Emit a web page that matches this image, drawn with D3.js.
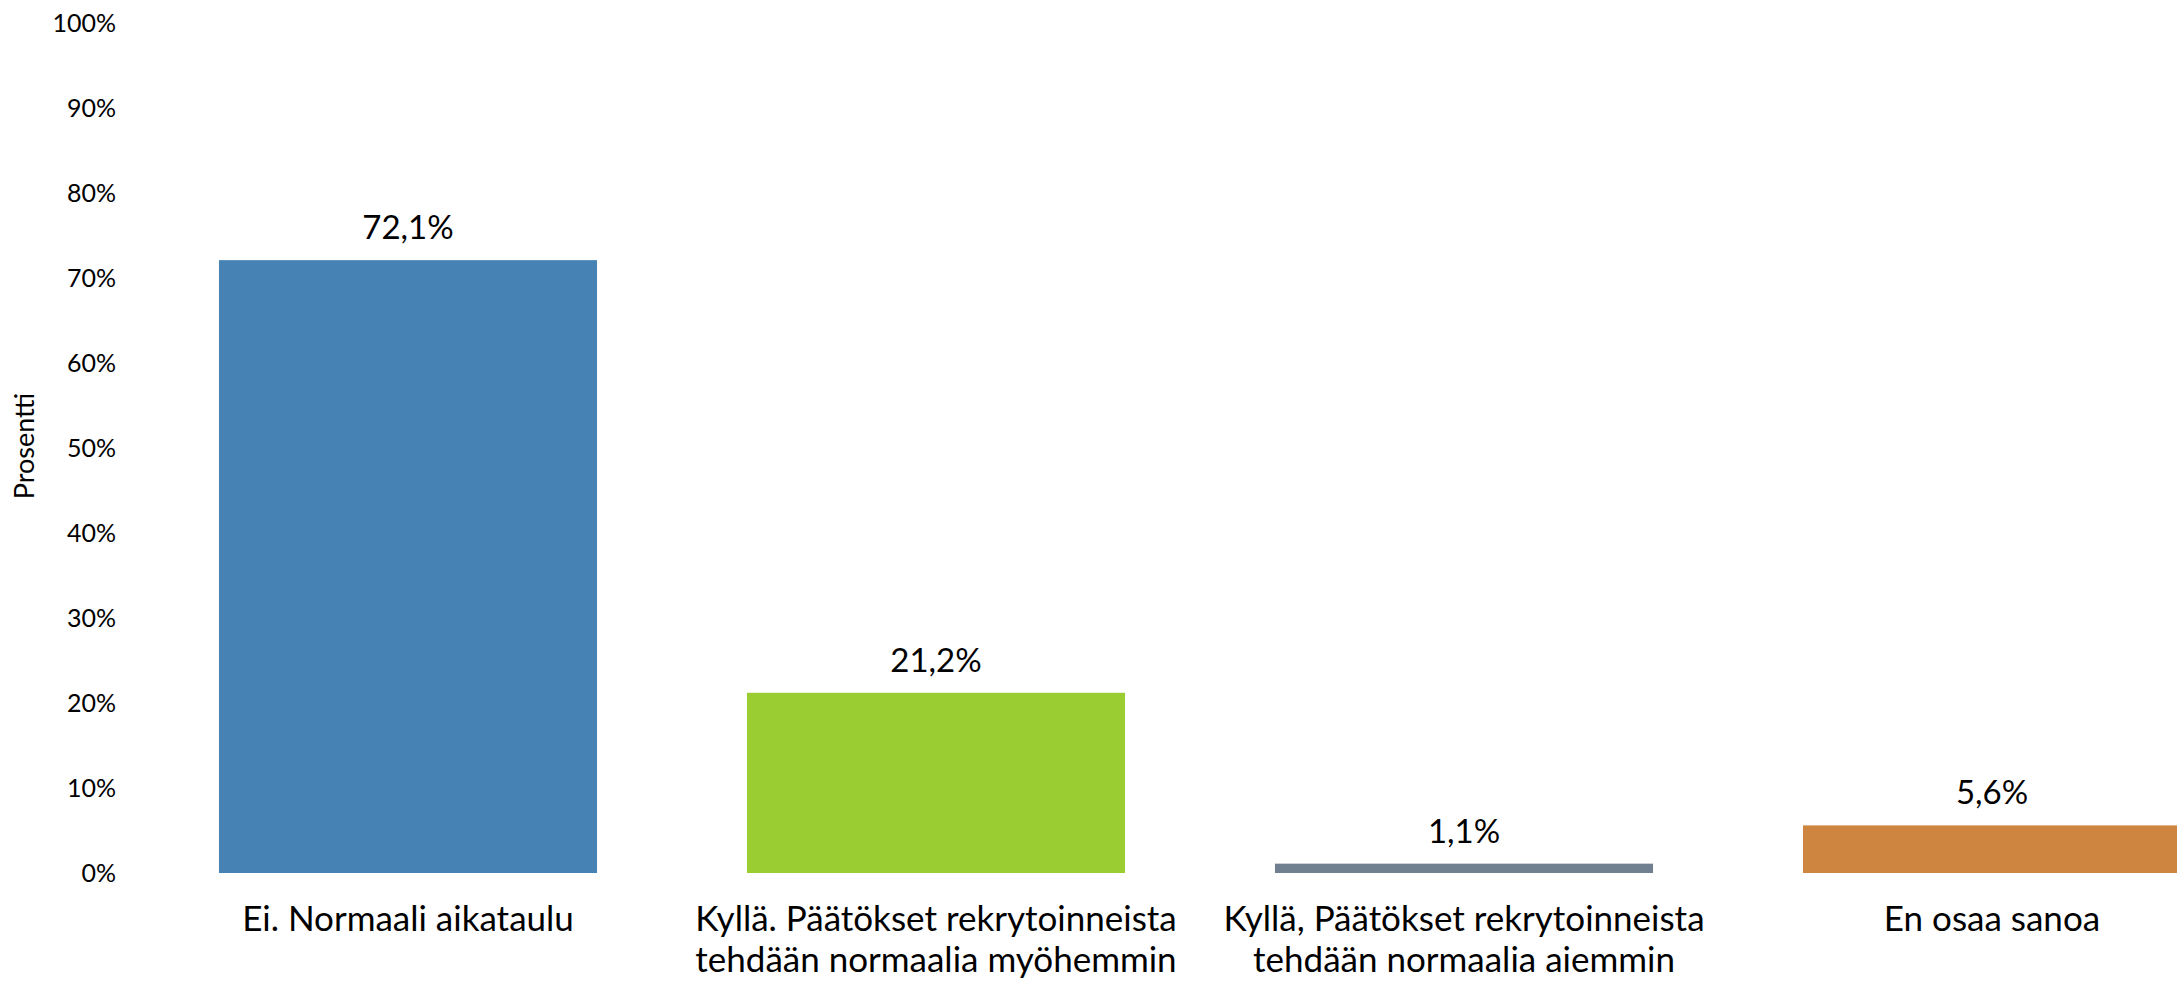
<!DOCTYPE html>
<html>
<head>
<meta charset="utf-8">
<script src="https://cdn.jsdelivr.net/npm/d3@7"></script>
<style>
  body { margin: 0; background: #fff; }
  text { font-family: Lato, "Open Sans", sans-serif; fill: #000; }
</style>
</head>
<body>
<script>
// chart size = window size
var svgWidth = 2177;
var svgHeight = 984;

// data
var categories = [
    "Ei. Normaali aikataulu",
    "Kyllä. Päätökset rekrytoinneista|tehdään normaalia myöhemmin",
    "Kyllä, Päätökset rekrytoinneista|tehdään normaalia aiemmin",
    "En osaa sanoa"
];
var values = [72.1, 21.2, 1.1, 5.6];
var valueLabels = ["72,1%", "21,2%", "1,1%", "5,6%"];
var colors = ["#4682b4", "#9acd32", "#708090", "#cd853f"];
var yTicks = [0, 10, 20, 30, 40, 50, 60, 70, 80, 90, 100];
var yTitle = "Prosentti";

var svg = d3.select("body")
    .append("svg")
    .attr("width", svgWidth)
    .attr("height", svgHeight);

// last bar runs past the right edge in the original, so the range does too
var x = d3.scaleBand()
    .domain(categories)
    .range([144, 2256])
    .paddingInner(0.284)
    .paddingOuter(0.142);

var y = d3.scaleLinear()
    .domain([0, 100])
    .range([873, 23]);

// y axis, no line, no tick marks
var yAxis = svg.append("g")
    .attr("transform", "translate(126,0)")
    .call(d3.axisLeft(y)
        .tickValues(yTicks)
        .tickSize(0)
        .tickPadding(10)
        .tickFormat(function(d){ return d + "%"; }));
yAxis.select(".domain").remove();
yAxis.selectAll("text")
    .attr("dy", null)
    .attr("y", 8)
    .style("font-family", "Lato, sans-serif")
    .style("font-size", "25px")
    .style("fill", "#000");

// axis title
svg.append("text")
    .attr("transform", "translate(34,446) rotate(-90)")
    .attr("text-anchor", "middle")
    .style("font-size", "27px")
    .text(yTitle);

// bars
svg.selectAll("rect.bar")
    .data(values)
    .enter()
    .append("rect")
    .attr("class", "bar")
    .attr("x", function(d, i){ return x(categories[i]); })
    .attr("width", x.bandwidth())
    .attr("y", function(d){ return y(d); })
    .attr("height", function(d){ return y(0) - y(d); })
    .style("fill", function(d, i){ return colors[i]; });

// value labels above bars
svg.selectAll("text.value")
    .data(values)
    .enter()
    .append("text")
    .attr("class", "value")
    .attr("x", function(d, i){ return x(categories[i]) + x.bandwidth() / 2; })
    .attr("y", function(d){ return y(d) - 21; })
    .attr("text-anchor", "middle")
    .style("font-size", "33px")
    .text(function(d, i){ return valueLabels[i]; });

// category labels, wrapped on "|"
var cat = svg.selectAll("text.cat")
    .data(categories)
    .enter()
    .append("text")
    .attr("class", "cat")
    .attr("text-anchor", "middle")
    .style("font-size", "35px");

cat.each(function(d){
    var t = d3.select(this);
    var cx = x(d) + x.bandwidth() / 2;
    d.split("|").forEach(function(line, j){
        t.append("tspan")
            .attr("x", cx)
            .attr("y", 931 + j * 41)
            .text(line);
    });
});
</script>
</body>
</html>
